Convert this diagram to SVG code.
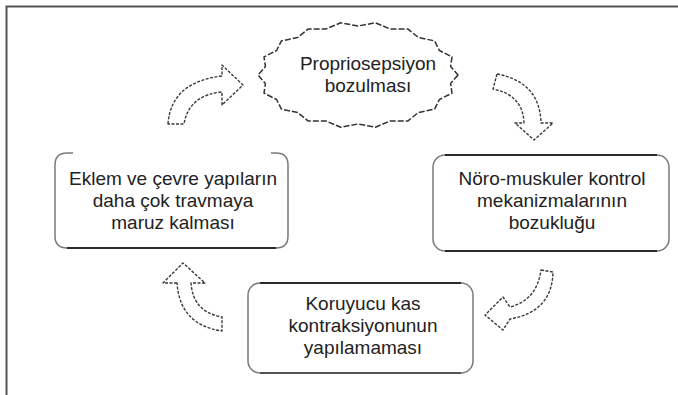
<svg xmlns="http://www.w3.org/2000/svg" width="678" height="395" viewBox="0 0 678 395">
<style>
.t{font-family:"Liberation Sans",Arial,sans-serif;font-size:19px;fill:#222;text-anchor:middle}
.side{fill:none;stroke:#7a7a7a;stroke-width:1.5}
.edge{fill:none;stroke:#2a2a2a;stroke-width:2}
.arr{fill:#fff;stroke:#3a3a3a;stroke-width:1.4;stroke-dasharray:3 1.5;stroke-linejoin:round}
.cloud{fill:#fff;stroke:#333;stroke-width:1.5;stroke-dasharray:6 2;stroke-linejoin:round}
</style>
<rect width="678" height="395" fill="#fff"/>
<g id="frame">
<path d="M6.5 395 L6.5 6.5 L678 6.5" fill="none" stroke="#555" stroke-width="2"/>
</g>
<g id="connectors">
<path class="arr" d="M168 124 Q171 82 222 76 L222 65 L243 85 L222 105 L222 92 Q189 95 184 124 Z"/>
<path class="arr" d="M497 74 Q540 82 541 123 L553 123 L534 140 L515 123 L524 123 Q523 95 493 89 Z"/>
<path class="arr" d="M541 270 L553 272 Q552 312 510 319 L503 330 L485 315 L503 297 L510 307 Q537 300 541 270 Z"/>
<path class="arr" d="M177 283 L163 283 L183 263 L205 283 L191 283 Q193 312 222 317 L222 331 Q180 325 177 283 Z"/>
</g>
<g id="node-proprio">
<polygon class="cloud" points="458,75 450.6,83.5 452,93.1 439.4,99.5 434.6,109.1 418.4,112.5 408,120.9 390.1,121 375.4,127.2 358,124 340.6,127.2 325.9,121 308,120.9 297.6,112.5 281.4,109.1 276.6,99.5 264,93.1 265.4,83.5 258,75 265.4,66.5 264,56.9 276.6,50.5 281.4,40.9 297.6,37.5 308,29.1 325.9,29 340.6,22.8 358,26 375.4,22.8 390.1,29 408,29.1 418.4,37.5 434.6,40.9 439.4,50.5 452,56.9 450.6,66.5"/>
<text class="t" x="368" y="70">Propriosepsiyon</text>
<text class="t" x="368" y="92">bozulması</text>
</g>
<g id="node-noro">
<rect class="side" x="433" y="155" width="236" height="96" rx="12"/>
<path class="edge" d="M445 155 L657 155 M445 251 L657 251"/>
<text class="t" x="552" y="185">Nöro-muskuler kontrol</text>
<text class="t" x="552" y="207">mekanizmalarının</text>
<text class="t" x="552" y="229">bozukluğu</text>
</g>
<g id="node-koruyucu">
<rect class="side" x="248" y="283" width="225" height="90" rx="12"/>
<path class="edge" d="M260 283 L461 283"/>
<path d="M260 373 L461 373" fill="none" stroke="#555" stroke-width="2"/>
<text class="t" x="363" y="310">Koruyucu kas</text>
<text class="t" x="363" y="332">kontraksiyonunun</text>
<text class="t" x="363" y="354">yapılamaması</text>
</g>
<g id="node-eklem">
<path class="side" d="M73 153 L67 153 Q55 153 55 165 L55 236 Q55 248 67 248 M276 248 Q288 248 288 236 L288 165 Q288 153 276 153 L271 153"/>
<path class="edge" d="M67 248 L276 248"/>
<text class="t" x="173" y="185">Eklem ve çevre yapıların</text>
<text class="t" x="173" y="207">daha çok travmaya</text>
<text class="t" x="173" y="229">maruz kalması</text>
</g>
</svg>
